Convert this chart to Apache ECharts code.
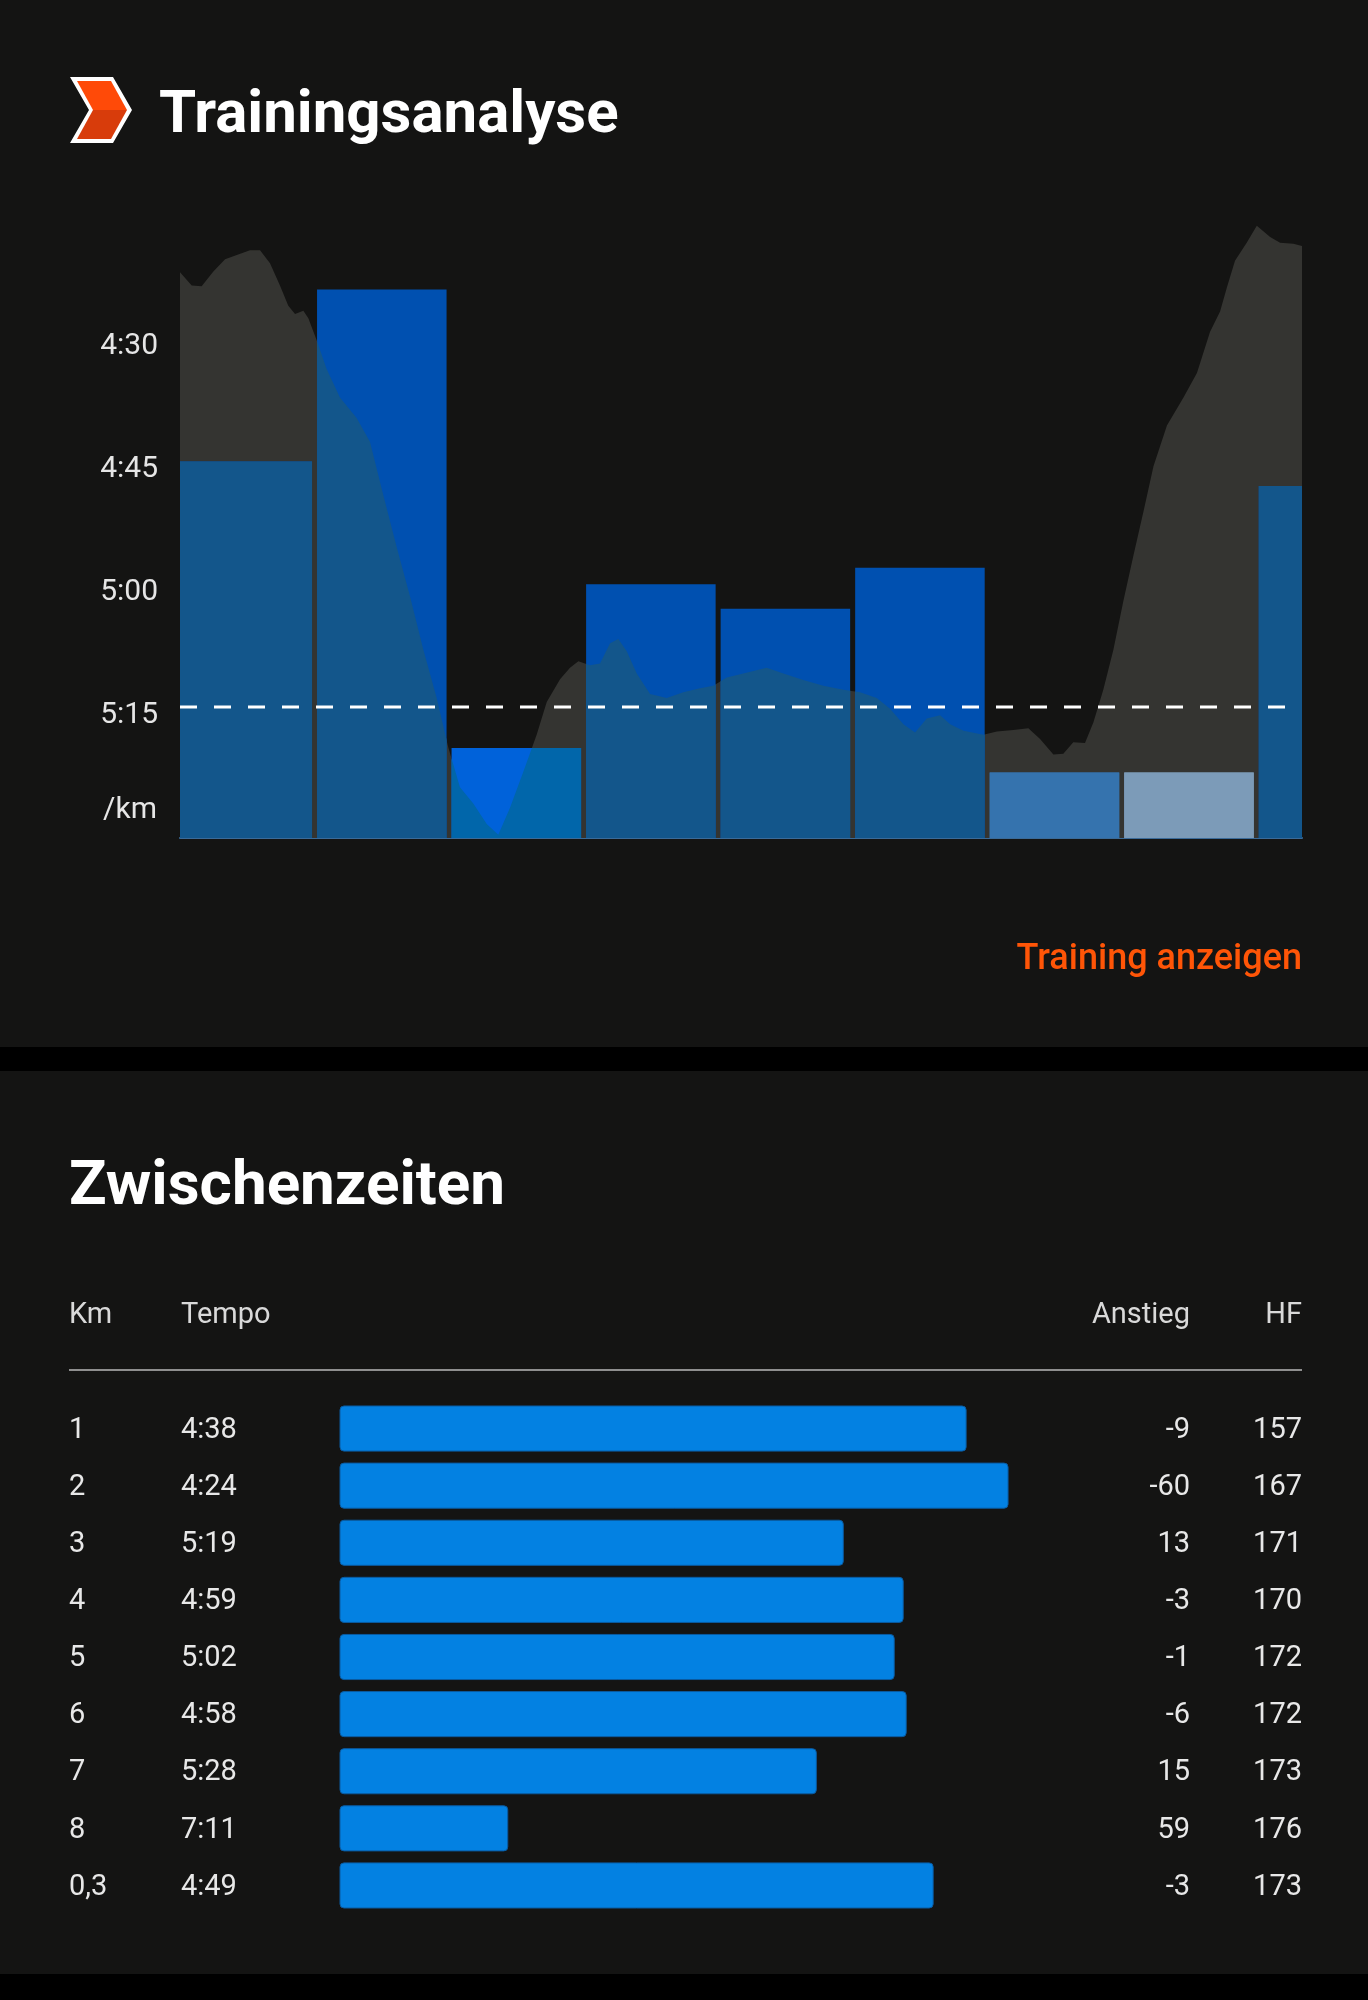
<!DOCTYPE html>
<html>
<head>
<meta charset="utf-8">
<style>
html,body{margin:0;padding:0;background:#141413;}
#c{width:1368px;height:2000px;}
</style>
<script src="https://cdn.jsdelivr.net/npm/echarts/dist/echarts.min.js"></script>
</head>
<body>
<div id="c"></div>
<script>
// ---------- Trainingsanalyse: pace profile (distance km, pace s/km) ----------
const profileKm = [0, 0.087, 0.161, 0.248, 0.335, 0.422, 0.520, 0.595, 0.669, 0.743,
  0.805, 0.855, 0.917, 0.954, 1.016, 1.090, 1.189, 1.313, 1.412, 1.511,
  1.611, 1.710, 1.809, 1.908, 1.994, 2.081, 2.180, 2.280, 2.366, 2.453,
  2.552, 2.651, 2.726, 2.825, 2.899, 2.961, 3.048, 3.122, 3.197, 3.258,
  3.321, 3.395, 3.494, 3.618, 3.741, 3.865, 3.964, 4.064, 4.187, 4.361,
  4.485, 4.633, 4.782, 4.931, 5.055, 5.179, 5.278, 5.377, 5.464, 5.551,
  5.650, 5.725, 5.824, 5.972, 6.072, 6.194, 6.306, 6.393, 6.492, 6.566,
  6.640, 6.727, 6.789, 6.863, 6.938, 7.013, 7.087, 7.162, 7.236, 7.336,
  7.459, 7.559, 7.656, 7.731, 7.781, 7.842, 7.929, 8.004, 8.103, 8.177,
  8.276, 8.34];
const profilePace = [260.9, 262.5, 262.6, 260.8, 259.3, 258.8, 258.2, 258.2, 259.8, 262.5,
  265.0, 266.0, 265.6, 266.5, 269.2, 272.7, 276.2, 278.7, 281.6, 288.1,
  294.5, 300.5, 307.0, 312.9, 318.9, 323.8, 325.8, 328.3, 329.6, 326.3,
  321.9, 317.4, 313.4, 310.6, 309.2, 308.4, 308.9, 308.7, 306.2, 305.7,
  307.2, 309.9, 312.4, 312.9, 312.2, 311.7, 311.4, 310.4, 309.9, 309.2,
  309.9, 310.7, 311.4, 311.9, 312.2, 312.9, 314.2, 316.1, 317.1, 315.4,
  315.0, 316.1, 316.9, 317.4, 317.0, 316.8, 316.6, 317.9, 319.8, 319.7,
  318.3, 318.4, 315.9, 311.9, 307.0, 301.0, 295.5, 290.1, 284.6, 279.6,
  276.2, 273.2, 268.2, 265.7, 262.8, 259.5, 257.3, 255.2, 256.6, 257.3,
  257.4, 257.7];

// split bars in the analysis chart
const splitStartKm = [0, 1, 2, 3, 4, 5, 6, 7, 8];
const splitEndKm = [1, 2, 3, 4, 5, 6, 7, 8, 8.34];
const splitChartPace = [284, 263, 319, 299, 302, 297, 322, 322, 287];
const avgPace = 314;
const paceTicks = [270, 285, 300, 315];
const paceAxisMin = 255, paceAxisMax = 330;

// ---------- Zwischenzeiten table ----------
const kmLabels = ['1', '2', '3', '4', '5', '6', '7', '8', '0,3'];
const tempoLabels = ['4:38', '4:24', '5:19', '4:59', '5:02', '4:58', '5:28', '7:11', '4:49'];
const tempoSec = [278, 264, 319, 299, 302, 298, 328, 431, 289];
const anstieg = ['-9', '-60', '13', '-3', '-1', '-6', '15', '59', '-3'];
const hf = ['157', '167', '171', '170', '172', '172', '173', '176', '173'];
const tableAxisMin = 250, tableAxisMax = 487;

// ---------- styles ----------
const BG = '#141413';
const AREA = '#343431';
const barBright = ['#0050b0', '#0050b0', '#0062da', '#0050b0', '#0050b0', '#0050b0', '#3573ae', '#7c9bb8', '#0050b0'];
const barMuted  = ['#13568b', '#13568b', '#0166aa', '#13568b', '#13568b', '#13568b', '#3573ae', '#7c9bb8', '#13568b'];
const FONT = 'Roboto, "Noto Sans", sans-serif';

function fmt(s) { return Math.floor(s / 60) + ':' + String(Math.round(s % 60)).padStart(2, '0'); }

function interp(k) {
  if (k <= profileKm[0]) return profilePace[0];
  for (let i = 1; i < profileKm.length; i++) {
    if (k <= profileKm[i]) {
      const t = (k - profileKm[i - 1]) / (profileKm[i] - profileKm[i - 1]);
      return profilePace[i - 1] + t * (profilePace[i] - profilePace[i - 1]);
    }
  }
  return profilePace[profilePace.length - 1];
}

function overlayPoints(a, b, yTop, yBot, api) {
  const kms = [a];
  for (let i = 0; i < profileKm.length; i++) if (profileKm[i] > a && profileKm[i] < b) kms.push(profileKm[i]);
  kms.push(b);
  const raw = kms.map(k => api.coord([k, interp(k)]));
  const pts = [];
  for (let i = 0; i < raw.length; i++) {
    if (i > 0) {
      const p = raw[i - 1], q = raw[i];
      if ((p[1] - yTop) * (q[1] - yTop) < 0) {
        const t = (yTop - p[1]) / (q[1] - p[1]);
        pts.push([p[0] + t * (q[0] - p[0]), yTop]);
      }
    }
    pts.push([raw[i][0], Math.max(raw[i][1], yTop)]);
  }
  pts.push([raw[raw.length - 1][0], yBot]);
  pts.push([raw[0][0], yBot]);
  return pts;
}

const totalKm = splitEndKm[splitEndKm.length - 1];

const chart = echarts.init(document.getElementById('c'), null, { renderer: 'canvas', width: 1368, height: 2000 });

const txt = (text, x, y, font, fill, align) => ({
  type: 'text', silent: true,
  style: { text, x, y, font, fill, textAlign: align, align, textVerticalAlign: 'middle', verticalAlign: 'middle' }
});

const option = {
  backgroundColor: BG,
  animation: false,
  grid: [
    { left: 180, top: 224, width: 1122, height: 614, containLabel: false, outerBoundsMode: 'none' },
    { left: 340, top: 1400, width: 710, height: 514, containLabel: false, outerBoundsMode: 'none' }
  ],
  xAxis: [
    { gridIndex: 0, type: 'value', min: 0, max: totalKm,
      axisLine: { show: true, onZero: false, lineStyle: { color: '#3a6a98', width: 2 } },
      axisTick: { show: false }, axisLabel: { show: false }, splitLine: { show: false } },
    { gridIndex: 1, type: 'value', min: tableAxisMin, max: tableAxisMax, inverse: true, show: false,
      splitLine: { show: false } }
  ],
  yAxis: [
    { gridIndex: 0, type: 'value', inverse: true, min: paceAxisMin, max: paceAxisMax, interval: 15,
      axisLine: { show: false }, axisTick: { show: false }, splitLine: { show: false },
      axisLabel: { color: '#e6e6e6', fontSize: 30, fontFamily: FONT, margin: 22, padding: [6, 0, 0, 0],
        formatter: v => paceTicks.includes(v) ? fmt(v) : '' } },
    { gridIndex: 1, type: 'category', data: kmLabels, inverse: true, show: false }
  ],
  series: [
    {
      type: 'line', xAxisIndex: 0, yAxisIndex: 0, z: 1, silent: true,
      data: profileKm.map((k, i) => [k, profilePace[i]]),
      symbol: 'none', showSymbol: false, smooth: false,
      lineStyle: { width: 0, opacity: 0 },
      areaStyle: { color: AREA, opacity: 1, origin: 'end' }
    },
    {
      type: 'custom', xAxisIndex: 0, yAxisIndex: 0, z: 2, silent: true,
      data: splitStartKm.map((s, i) => [s, splitEndKm[i], splitChartPace[i]]),
      renderItem: (params, api) => {
        const i = params.dataIndex;
        const s = api.value(0), e = api.value(1), p = api.value(2);
        const pxPerKm = api.size([1, 0])[0];
        const insL = s <= 0 ? 0 : 2.5 / pxPerKm;
        const insR = e >= totalKm ? 0 : 2.5 / pxPerKm;
        const a = s + insL, b = e - insR;
        const tl = api.coord([a, p]);
        const br = api.coord([b, paceAxisMax]);
        const yTop = tl[1], yBot = br[1];
        return {
          type: 'group',
          children: [
            { type: 'rect', shape: { x: tl[0], y: yTop, width: br[0] - tl[0], height: yBot - yTop },
              style: { fill: barBright[i] } },
            { type: 'polygon', shape: { points: overlayPoints(a, b, yTop, yBot, api) },
              style: { fill: barMuted[i] } }
          ]
        };
      }
    },
    {
      type: 'line', xAxisIndex: 0, yAxisIndex: 0, z: 5, silent: true,
      data: [[0, avgPace], [totalKm, avgPace]],
      symbol: 'none', showSymbol: false,
      lineStyle: { color: '#ffffff', width: 3, type: [17, 17], cap: 'butt' }
    },
    {
      type: 'custom', xAxisIndex: 1, yAxisIndex: 1, z: 3, silent: true,
      data: tempoSec.map((p, i) => [p, i]),
      renderItem: (params, api) => {
        const i = params.dataIndex;
        const end = api.coord([api.value(0), i]);
        const start = api.coord([tableAxisMax, i]);
        const h = api.size([0, 1])[1] * 0.79;
        const yc = end[1];
        const ty = yc + 2;
        const f = '29px ' + FONT;
        return {
          type: 'group',
          children: [
            { type: 'rect', shape: { x: start[0], y: yc - h / 2, width: end[0] - start[0], height: h, r: 4 },
              style: { fill: '#0381e2', stroke: '#0a5aa0', lineWidth: 1 } },
            txt(kmLabels[i], 69, ty, f, '#e8e8e8', 'left'),
            txt(tempoLabels[i], 181, ty, f, '#e8e8e8', 'left'),
            txt(anstieg[i], 1190, ty, f, '#e8e8e8', 'right'),
            txt(hf[i], 1302, ty, f, '#e8e8e8', 'right')
          ]
        };
      }
    }
  ],
  graphic: [
    // separators
    { type: 'rect', silent: true, shape: { x: 0, y: 1047, width: 1368, height: 24 }, style: { fill: '#000000' } },
    { type: 'rect', silent: true, shape: { x: 0, y: 1974, width: 1368, height: 26 }, style: { fill: '#000000' } },
    // icon
    { type: 'polygon', silent: true, shape: { points: [[70, 77], [113, 77], [132, 110], [113, 143], [70, 143], [89, 110]] },
      style: { fill: '#ffffff' } },
    { type: 'polygon', silent: true, shape: { points: [[77, 81], [111, 81], [127, 110], [93, 110]] },
      style: { fill: '#ff4a08' } },
    { type: 'polygon', silent: true, shape: { points: [[93, 110], [127, 110], [111, 139], [77, 139]] },
      style: { fill: '#d83c0b' } },
    txt('Trainingsanalyse', 159, 117, 'bold 60px ' + FONT, '#ffffff', 'left'),
    txt('/km', 157, 810, '30px ' + FONT, '#e6e6e6', 'right'),
    txt('Training anzeigen', 1302, 960, '500 36px ' + FONT, '#ff5507', 'right'),
    txt('Zwischenzeiten', 69, 1188, 'bold 62px ' + FONT, '#ffffff', 'left'),
    txt('Km', 69, 1316, '29px ' + FONT, '#d9d9d9', 'left'),
    txt('Tempo', 181, 1316, '29px ' + FONT, '#d9d9d9', 'left'),
    txt('Anstieg', 1190, 1316, '29px ' + FONT, '#d9d9d9', 'right'),
    txt('HF', 1302, 1316, '29px ' + FONT, '#d9d9d9', 'right'),
    { type: 'line', silent: true, shape: { x1: 69, y1: 1370, x2: 1302, y2: 1370 },
      style: { stroke: '#8f8f8f', lineWidth: 2 } }
  ]
};
chart.setOption(option);
</script>
</body>
</html>
